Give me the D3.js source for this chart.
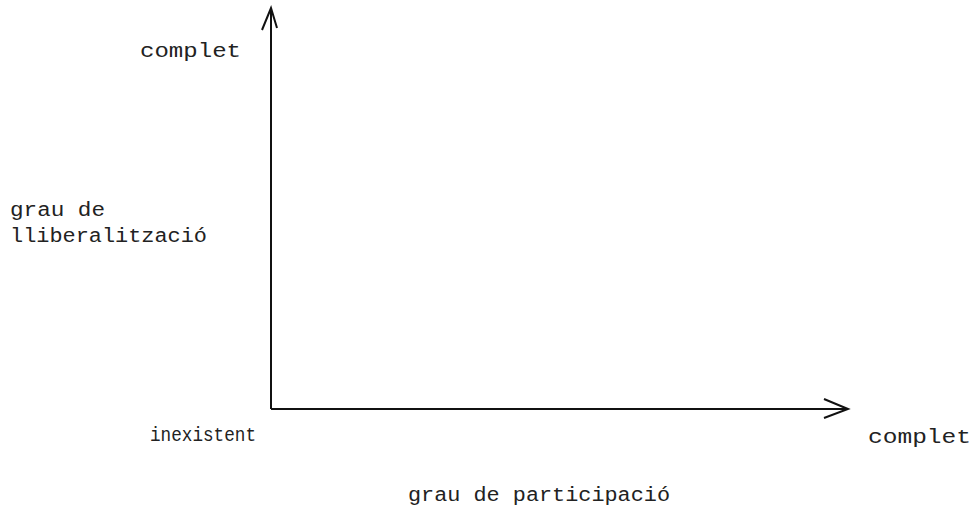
<!DOCTYPE html>
<html>
<head>
<meta charset="utf-8">
<script src="https://cdnjs.cloudflare.com/ajax/libs/d3/7.8.5/d3.min.js"></script>
<style>
  body { margin: 0; background: #fff; }
  svg text { font-family: "Liberation Mono", "DejaVu Sans Mono", monospace; fill: #222; }
</style>
</head>
<body>
<div id="chart"></div>
<script>
// axis ends: 0 = inexistent, 1 = complet
var axisLevels = [0, 1];
var levelLabels = ["inexistent", "complet"];
var xTitle = "grau de participació";
var yTitle = ["grau de", "lliberalització"];

var width = 973, height = 515;
var svg = d3.select("#chart").append("svg")
  .attr("width", width)
  .attr("height", height);

var x = d3.scaleLinear().domain([0, 1]).range([271, 848]);
var y = d3.scaleLinear().domain([0, 1]).range([409, 8]);

var axes = svg.append("g")
  .attr("stroke", "#111")
  .attr("stroke-width", 2)
  .attr("fill", "none");

// vertical axis
axes.append("line")
  .attr("x1", x(0)).attr("y1", y(0))
  .attr("x2", x(0)).attr("y2", y(1));
axes.append("path")
  .attr("d", "M" + (x(0) - 9) + "," + (y(1) + 22) + " L" + x(0) + "," + y(1) + " L" + (x(0) + 6) + "," + (y(1) + 20));

// horizontal axis
axes.append("line")
  .attr("x1", x(0)).attr("y1", y(0))
  .attr("x2", x(1)).attr("y2", y(0));
axes.append("path")
  .attr("d", "M" + (x(1) - 24) + "," + (y(0) - 10) + " L" + x(1) + "," + y(0) + " L" + (x(1) - 24) + "," + (y(0) + 9));

function label(tx, ty, s, len) {
  svg.append("text")
    .attr("x", tx).attr("y", ty)
    .attr("font-size", 20)
    .attr("textLength", len)
    .attr("lengthAdjust", "spacingAndGlyphs")
    .text(s);
}

// level labels
label(x(0) - 131, y(1) + 49, levelLabels[1], 101);
label(x(0) - 121, y(0) + 32, levelLabels[0], 106);
label(x(1) + 20, y(0) + 34, levelLabels[1], 103);

// titles
label(10, 216, yTitle[0], 95);
label(10, 242, yTitle[1], 197);
label(408, 501, xTitle, 262);
</script>
</body>
</html>
